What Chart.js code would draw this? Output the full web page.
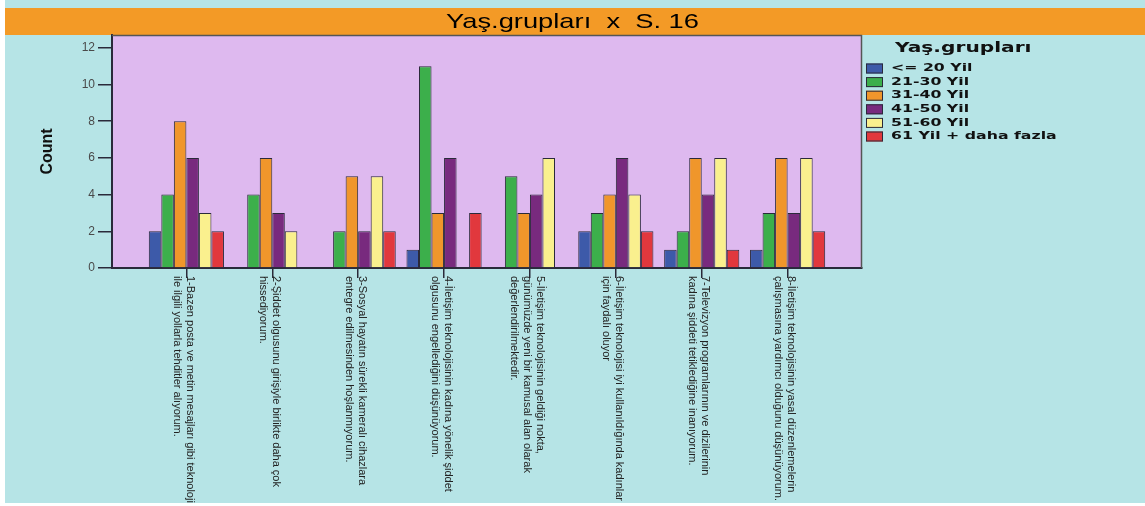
<!DOCTYPE html>
<html>
<head>
<meta charset="utf-8">
<script src="https://cdn.jsdelivr.net/npm/chart.js@4.4.1/dist/chart.umd.min.js"></script>
<style>
  html, body { margin: 0; padding: 0; background: #fff; }
</style>
</head>
<body>
<canvas id="chart" width="1145" height="506"></canvas>
<script>
const chartTitle = "Yaş.grupları  x  S. 16";
const legendTitle = "Yaş.grupları";
const categories = [
  ["1-Bazen posta ve metin mesajları gibi teknoloji", "ile ilgili yollarla tehditler alıyorum."],
  ["2-Şiddet olgusunu girişiyle birlikte daha çok", "hissediyorum."],
  ["3-Sosyal hayatın sürekli kameralı cihazlara", "entegre edilmesinden hoşlanmıyorum."],
  ["4-İletişim teknolojisinin kadına yönelik şiddet", "olgusunu engellediğini düşünüyorum."],
  ["5-İletişim teknolojisinin geldiği nokta,", "günümüzde yeni bir kamusal alan olarak", "değerlendirilmektedir."],
  ["6-İletişim teknolojisi iyi kullanıldığında kadınlar", "için faydalı oluyor"],
  ["7-Televizyon programlarının ve dizilerinin", "kadına şiddeti tetiklediğine inanıyorum."],
  ["8-İletişim teknolojisinin yasal düzenlemelerin", "çalışmasına yardımcı olduğunu düşünüyorum."]
];
const ageGroups = ["<= 20 Yil", "21-30 Yil", "31-40 Yil", "41-50 Yil", "51-60 Yil", "61 Yil + daha fazla"];
const upTo20 = [2, null, null, 1, null, 2, 1, 1];
const from21to30 = [4, 4, 2, 11, 5, 3, 2, 3];
const from31to40 = [8, 6, 5, 3, 3, 4, 6, 6];
const from41to50 = [6, 3, 2, 6, 4, 6, 4, 3];
const from51to60 = [3, 2, 5, null, 6, 4, 6, 6];
const over61 = [2, null, 2, 3, null, 2, 1, 2];
const yTicks = [0, 2, 4, 6, 8, 10, 12];

const series = [upTo20, from21to30, from31to40, from41to50, from51to60, over61];
const colors = ["#3d5aa9", "#3caf4b", "#f0962b", "#782a7e", "#faf08e", "#e1383d"];
const dark = "#2a2a3a";

// title bar, plot background, frame, rotated category labels, legend
const decor = {
  id: "decor",
  beforeDraw(chart) {
    const { ctx, chartArea: a } = chart;
    ctx.save();
    ctx.fillStyle = "#b6e4e6";
    ctx.fillRect(5, 0, chart.width - 5, chart.height - 3);
    ctx.fillStyle = "#f39a26";
    ctx.fillRect(5, 8, chart.width - 5, a.top - 8);
    ctx.fillStyle = "#deb9ef";
    ctx.fillRect(a.left, a.top, a.width, a.height);

    ctx.font = '21px "Liberation Sans"';
    ctx.fillStyle = "#000";
    ctx.textBaseline = "middle";
    ctx.textAlign = "center";
    ctx.translate(chart.width / 2, 22);
    ctx.scale(1.3, 1);
    ctx.fillText(chartTitle, 0, 0);
    ctx.restore();
  },
  afterDraw(chart) {
    const { ctx, chartArea: a } = chart;
    const x = chart.scales.x;
    ctx.save();
    ctx.strokeStyle = "#555";
    ctx.lineWidth = 1.5;
    ctx.beginPath();
    ctx.moveTo(a.left, a.top + 0.5);
    ctx.lineTo(a.right - 0.5, a.top + 0.5);
    ctx.lineTo(a.right - 0.5, a.bottom);
    ctx.stroke();

    ctx.font = '11px "Liberation Sans"';
    ctx.fillStyle = "#222";
    ctx.textAlign = "left";
    ctx.textBaseline = "middle";
    categories.forEach((lines, i) => {
      const px = x.getPixelForValue(i);
      lines.forEach((line, j) => {
        const off = ((lines.length - 1) / 2 - j) * 13 - 3;
        ctx.save();
        ctx.translate(px + off, a.bottom + 8);
        ctx.rotate(Math.PI / 2);
        ctx.fillText(line, 0, 0);
        ctx.restore();
      });
    });

    // legend
    const lx = a.right + 4;
    ctx.fillStyle = "#111";
    ctx.textBaseline = "middle";
    ctx.save();
    ctx.translate(lx + 29, 48);
    ctx.scale(1.44, 1);
    ctx.font = 'bold 14px "DejaVu Sans"';
    ctx.fillText(legendTitle, 0, 0);
    ctx.restore();
    chart.data.datasets.forEach((ds, i) => {
      const cy = 68.5 + i * 13.6;
      ctx.fillStyle = ds.backgroundColor;
      ctx.fillRect(lx, cy - 5, 17, 10);
      ctx.strokeStyle = dark;
      ctx.lineWidth = 1;
      ctx.strokeRect(lx + 0.5, cy - 4.5, 16, 9);
      ctx.save();
      ctx.translate(lx + 25, cy);
      ctx.scale(1.5, 1);
      ctx.fillStyle = "#111";
      ctx.font = 'bold 10.5px "DejaVu Sans"';
      ctx.fillText(ds.label, 0, 0);
      ctx.restore();
    });
    ctx.restore();
  }
};

new Chart(document.getElementById("chart"), {
  type: "bar",
  data: {
    datasets: series.map((vals, k) => ({
      label: ageGroups[k],
      data: vals.map((v, i) => ({ x: i, y: v })),
      backgroundColor: colors[k],
      borderColor: dark,
      borderWidth: 1,
      categoryPercentage: 0.875,
      barPercentage: 1
    }))
  },
  options: {
    responsive: false,
    animation: false,
    layout: { padding: { left: 5, top: 35, right: 283, bottom: 3 } },
    plugins: {
      legend: { display: false },
      tooltip: { enabled: false },
      title: { display: false }
    },
    scales: {
      x: {
        type: "linear",
        offset: false,
        min: -0.866,
        max: 7.866,
        afterBuildTicks(s) { s.ticks = categories.map((c, i) => ({ value: i })); },
        afterFit(s) { s.height = 235; },
        ticks: { display: false },
        grid: { offset: false, drawOnChartArea: false, tickLength: 10, color: dark, lineWidth: 1.5 },
        border: { color: dark, width: 2 }
      },
      y: {
        min: 0,
        max: 12.7,
        afterBuildTicks(s) { s.ticks = yTicks.map(v => ({ value: v })); },
        afterFit(s) { s.width = 107; },
        ticks: { color: "#4a4a4a", font: { family: "Liberation Sans", size: 12 }, padding: 3 },
        grid: { drawOnChartArea: false, tickLength: 14, color: dark, lineWidth: 1.5 },
        border: { color: dark, width: 2 },
        title: {
          display: true,
          text: "Count",
          color: "#111",
          font: { family: "Liberation Sans", size: 16, weight: "bold" },
          padding: { top: 33, bottom: 0 }
        }
      }
    }
  },
  plugins: [decor]
});
</script>
</body>
</html>
